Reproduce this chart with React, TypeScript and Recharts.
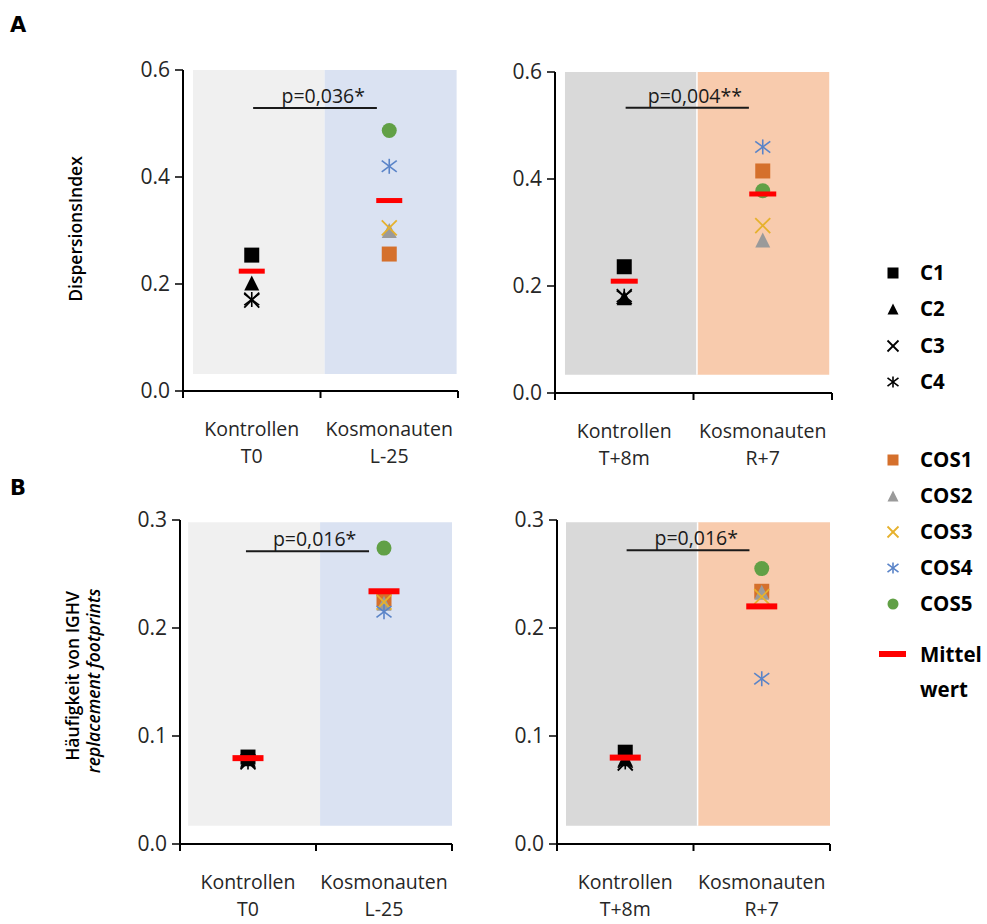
import React from 'react';
import { ScatterChart, Scatter, XAxis, YAxis, ReferenceArea, ReferenceLine, ReferenceDot } from 'recharts';

// groups on the x axis
const categories = ['Kontrollen', 'Kosmonauten'];
const timesA1 = ['T0', 'L-25'];
const timesA2 = ['T+8m', 'R+7'];
const timesB1 = ['T0', 'L-25'];
const timesB2 = ['T+8m', 'R+7'];

const controlNames = ['C1', 'C2', 'C3', 'C4'];
const cosmoNames = ['COS1', 'COS2', 'COS3', 'COS4', 'COS5'];

// A: Dispersionsindex
const a1Controls = [0.254, 0.202, 0.170, 0.171];
const a1Cosmo = [0.256, 0.300, 0.305, 0.420, 0.487];
const a1Means = [0.224, 0.356];

const a2Controls = [0.236, 0.178, 0.180, 0.181];
const a2Cosmo = [0.415, 0.286, 0.313, 0.460, 0.378];
const a2Means = [0.209, 0.372];

// B: Häufigkeit von IGHV replacement footprints
const b1Controls = [0.0805, 0.079, 0.076, 0.076];
const b1Cosmo = [0.227, 0.223, 0.224, 0.215, 0.274];
const b1Means = [0.0795, 0.234];

const b2Controls = [0.085, 0.079, 0.075, 0.076];
const b2Cosmo = [0.234, 0.233, 0.229, 0.153, 0.255];
const b2Means = [0.080, 0.220];

const yTicksA = [0, 0.2, 0.4, 0.6];
const yTicksB = [0, 0.1, 0.2, 0.3];

const FONT = '"Open Sans", "Noto Sans", sans-serif';

type Kind = 'square' | 'triangle' | 'cross' | 'asterisk' | 'circle' | 'mean';

const styles: Record<string, { kind: Kind; color: string }> = {
  C1: { kind: 'square', color: '#000000' },
  C2: { kind: 'triangle', color: '#000000' },
  C3: { kind: 'cross', color: '#000000' },
  C4: { kind: 'asterisk', color: '#000000' },
  COS1: { kind: 'square', color: '#d5702c' },
  COS2: { kind: 'triangle', color: '#9a9a9a' },
  COS3: { kind: 'cross', color: '#e6b12c' },
  COS4: { kind: 'asterisk', color: '#5a84c8' },
  COS5: { kind: 'circle', color: '#61a046' },
};

function drawMarker(kind: Kind, color: string, cx: number, cy: number, s: number, meanW = 27, meanH = 5) {
  const h = s / 2;
  switch (kind) {
    case 'square':
      return <rect x={cx - h} y={cy - h} width={s} height={s} fill={color} />;
    case 'triangle':
      return <polygon points={`${cx},${cy - h} ${cx + h},${cy + h} ${cx - h},${cy + h}`} fill={color} />;
    case 'cross':
      return (
        <g stroke={color} strokeWidth={1.8}>
          <line x1={cx - h} y1={cy - h} x2={cx + h} y2={cy + h} />
          <line x1={cx - h} y1={cy + h} x2={cx + h} y2={cy - h} />
        </g>
      );
    case 'asterisk':
      return (
        <g stroke={color} strokeWidth={1.6}>
          <line x1={cx - h} y1={cy - h * 0.75} x2={cx + h} y2={cy + h * 0.75} />
          <line x1={cx - h} y1={cy + h * 0.75} x2={cx + h} y2={cy - h * 0.75} />
          <line x1={cx} y1={cy - h} x2={cx} y2={cy + h} />
        </g>
      );
    case 'circle':
      return <circle cx={cx} cy={cy} r={h} fill={color} />;
    case 'mean':
      return <rect x={cx - meanW / 2} y={cy - meanH / 2} width={meanW} height={meanH} fill="#ff0000" />;
  }
}

interface PanelProps {
  left: number;
  top: number;
  width: number;
  height: number;
  yMax: number;
  yTicks: number[];
  times: string[];
  controls: number[];
  cosmo: number[];
  means: number[];
  bgLeft: string;
  bgRight: string;
  bgX: [number, number, number];
  bgY: [number, number];
  gapLine?: boolean;
  pText: string;
  pLine: [number, number, number];
  pTextX: number;
  meanW: number;
  meanH: number;
}

const Panel: React.FC<PanelProps> = (p) => {
  const padL = 110, padT = 40, padR = 20, padB = 90;
  const series = [
    ...controlNames.map((n, i) => ({ name: n, data: [{ x: 0.5, y: p.controls[i] }] })),
    ...cosmoNames.map((n, i) => ({ name: n, data: [{ x: 1.5, y: p.cosmo[i] }] })),
  ];
  const meanData = p.means.map((m, i) => ({ x: i + 0.5, y: m }));

  const xTick = (props: any) => {
    const { x, y, payload } = props;
    const v = payload.value;
    if (Number.isInteger(v)) {
      return <line x1={x} y1={y} x2={x} y2={y + 7} stroke="#000" strokeWidth={2} />;
    }
    const idx = Math.floor(v);
    return (
      <g>
        <text x={x} y={y + 45} textAnchor="middle" fontSize={19.5} fill="#262626" fontFamily={FONT}>{categories[idx]}</text>
        <text x={x} y={y + 72} textAnchor="middle" fontSize={19.5} fill="#262626" fontFamily={FONT}>{p.times[idx]}</text>
      </g>
    );
  };

  return (
    <div style={{ position: 'absolute', left: p.left - padL, top: p.top - padT }}>
      <ScatterChart width={p.width + padL + padR} height={p.height + padT + padB} margin={{ top: padT, right: padR, bottom: 0, left: 0 }}>
        <XAxis type="number" dataKey="x" domain={[0, 2]} ticks={[0, 0.5, 1, 1.5, 2]} interval={0}
          tick={xTick} tickLine={false} tickSize={0} tickMargin={0} height={padB}
          axisLine={{ stroke: '#000', strokeWidth: 2 }} />
        <YAxis type="number" dataKey="y" domain={[0, p.yMax]} ticks={p.yTicks} interval={0} width={padL}
          tickFormatter={(v: number) => v.toFixed(1)} tickSize={8} tickMargin={5}
          tick={{ fontSize: 21, fill: '#262626', fontFamily: FONT }}
          tickLine={{ stroke: '#000', strokeWidth: 1.5 }}
          axisLine={{ stroke: '#000', strokeWidth: 2 }} />
        <ReferenceArea x1={p.bgX[0]} x2={p.bgX[1]} y1={p.bgY[0]} y2={p.bgY[1]} fill={p.bgLeft} fillOpacity={1} stroke="none" />
        <ReferenceArea x1={p.bgX[1]} x2={p.bgX[2]} y1={p.bgY[0]} y2={p.bgY[1]} fill={p.bgRight} fillOpacity={1} stroke="none" />
        {p.gapLine && (
          <ReferenceLine segment={[{ x: p.bgX[1], y: p.bgY[0] }, { x: p.bgX[1], y: p.bgY[1] }]} stroke="#ffffff" strokeWidth={1.5} />
        )}
        <ReferenceLine segment={[{ x: p.pLine[0], y: p.pLine[2] }, { x: p.pLine[1], y: p.pLine[2] }]} stroke="#1a1a1a" strokeWidth={2} />
        <ReferenceDot x={p.pTextX} y={p.pLine[2]} r={0} fill="none" stroke="none"
          label={{ value: p.pText, position: 'top', offset: 5, fontSize: 19.5, fill: '#1a1a1a', fontFamily: FONT }} />
        {series.map((s) => (
          <Scatter key={s.name} name={s.name} data={s.data} isAnimationActive={false}
            shape={(sp: any) => drawMarker(styles[s.name].kind, styles[s.name].color, sp.cx, sp.cy, 15)} />
        ))}
        <Scatter name="Mittelwert" data={meanData} isAnimationActive={false}
          shape={(sp: any) => drawMarker('mean', '#ff0000', sp.cx, sp.cy, 15, p.meanW, p.meanH)} />
      </ScatterChart>
    </div>
  );
};

const legendRows = [
  { name: 'C1', y: 273 },
  { name: 'C2', y: 309 },
  { name: 'C3', y: 346 },
  { name: 'C4', y: 382 },
  { name: 'COS1', y: 460 },
  { name: 'COS2', y: 496 },
  { name: 'COS3', y: 532 },
  { name: 'COS4', y: 568 },
  { name: 'COS5', y: 604 },
];

export default function App() {
  return (
    <div style={{ position: 'absolute', left: 0, top: 0, width: 987, height: 924, background: '#fff', fontFamily: FONT }}>
      <Panel left={183} top={70} width={275} height={321} yMax={0.6} yTicks={yTicksA} times={timesA1}
        controls={a1Controls} cosmo={a1Cosmo} means={a1Means}
        bgLeft="#f0f0f0" bgRight="#dae2f2" bgX={[0.073, 1.03, 1.99]} bgY={[0.032, 0.6]}
        pText="p=0,036*" pLine={[0.51, 1.41, 0.529]} pTextX={1.02} meanW={26} meanH={5} />
      <Panel left={555} top={72} width={277} height={321} yMax={0.6} yTicks={yTicksA} times={timesA2}
        controls={a2Controls} cosmo={a2Cosmo} means={a2Means}
        bgLeft="#d9d9d9" bgRight="#f8cbad" bgX={[0.072, 1.025, 1.98]} bgY={[0.034, 0.6]} gapLine
        pText="p=0,004**" pLine={[0.51, 1.40, 0.533]} pTextX={1.01} meanW={27} meanH={5} />
      <Panel left={180} top={520} width={272} height={324} yMax={0.3} yTicks={yTicksB} times={timesB1}
        controls={b1Controls} cosmo={b1Cosmo} means={b1Means}
        bgLeft="#f0f0f0" bgRight="#dae2f2" bgX={[0.06, 1.03, 2.0]} bgY={[0.017, 0.298]}
        pText="p=0,016*" pLine={[0.485, 1.39, 0.271]} pTextX={0.99} meanW={31} meanH={6} />
      <Panel left={557} top={520} width={273} height={324} yMax={0.3} yTicks={yTicksB} times={timesB2}
        controls={b2Controls} cosmo={b2Cosmo} means={b2Means}
        bgLeft="#d9d9d9" bgRight="#f8cbad" bgX={[0.066, 1.03, 2.0]} bgY={[0.017, 0.298]} gapLine
        pText="p=0,016*" pLine={[0.51, 1.41, 0.272]} pTextX={1.02} meanW={31} meanH={6} />

      <svg width={987} height={924} style={{ position: 'absolute', left: 0, top: 0, pointerEvents: 'none' }}>
        <text x={10} y={32} fontSize={21} fontWeight={900} fontFamily="'DejaVu Sans', sans-serif" fill="#000">A</text>
        <text x={10} y={495} fontSize={21} fontWeight={900} fontFamily="'DejaVu Sans', sans-serif" fill="#000">B</text>

        <text transform="translate(82,229) rotate(-90)" textAnchor="middle" fontSize={17.5} fontWeight={600} fill="#000" fontFamily={FONT}>DispersionsIndex</text>
        <text transform="translate(79,676) rotate(-90)" textAnchor="middle" fontSize={17.5} fontWeight={600} fill="#000" fontFamily={FONT}>Häufigkeit von IGHV</text>
        <text transform="translate(100,681) rotate(-90)" textAnchor="middle" fontSize={17.5} fontWeight={600} fontStyle="italic" fill="#000" fontFamily={FONT}>replacement footprints</text>

        {legendRows.map((r) => (
          <g key={r.name}>
            {drawMarker(styles[r.name].kind, styles[r.name].color, 893, r.y, 11)}
            <text x={920} y={r.y + 7} fontSize={20.5} fontWeight={700} fill="#000" fontFamily={FONT}>{r.name}</text>
          </g>
        ))}
        <rect x={879} y={651} width={27} height={6} fill="#ff0000" />
        <text x={920} y={662} fontSize={20.5} fontWeight={700} fill="#000" fontFamily={FONT}>Mittel</text>
        <text x={920} y={697} fontSize={20.5} fontWeight={700} fill="#000" fontFamily={FONT}>wert</text>
      </svg>
    </div>
  );
}
